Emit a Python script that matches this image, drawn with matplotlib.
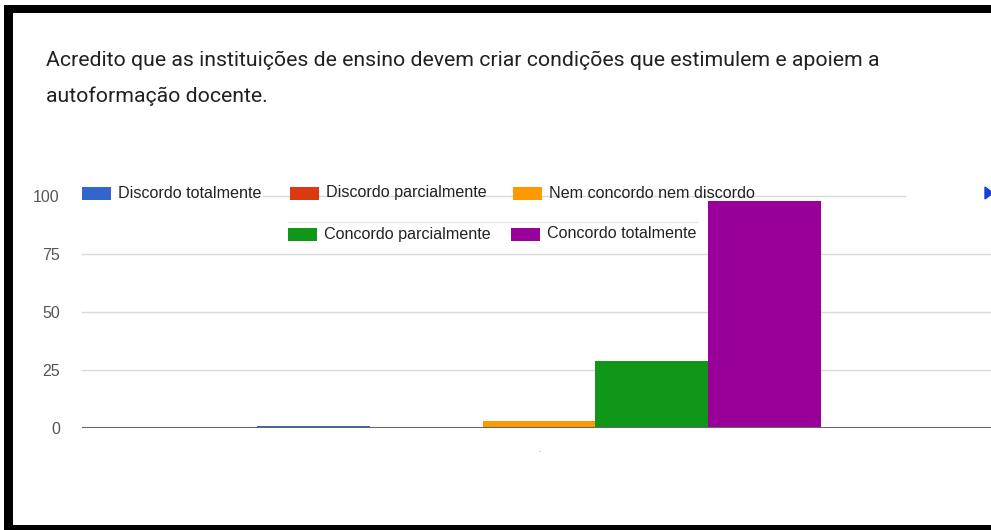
import matplotlib
matplotlib.use("Agg")
import matplotlib.pyplot as plt
from matplotlib.patches import Rectangle

W, H = 991, 530
title_lines = ["Acredito que as instituições de ensino devem criar condições que estimulem e apoiem a",
               "autoformação docente."]
categories = ["Discordo totalmente", "Discordo parcialmente", "Nem concordo nem discordo",
              "Concordo parcialmente", "Concordo totalmente"]
values = [1, 0, 3, 29, 98]
colors = ["#3366cc", "#dc3912", "#ff9900", "#109618", "#990099"]
yticks = [0, 25, 50, 75, 100]
xlabel = "."

fig = plt.figure(figsize=(W / 100, H / 100), dpi=100)
fig.patch.set_facecolor("white")

def fx(px):
    return px / W

def fy(py):
    return 1 - py / H

# axes: x from 82 to 996 px, y 0 at 428, 100 at 196
ax = fig.add_axes([fx(82), fy(428), (996 - 82) / W, (428 - 196) / H])
ax.set_xlim(-0.5, 0.5)
ax.set_ylim(0, 100)
ax.set_facecolor("none")
for s in ax.spines.values():
    s.set_visible(False)

n = len(values)
group_w = 564 / 914
bw = group_w / n
for i, (v, c) in enumerate(zip(values, colors)):
    x = -group_w / 2 + bw * (i + 0.5)
    ax.bar(x, v, width=bw, color=c, zorder=3, edgecolor="none")

for t in yticks[1:-1]:
    ax.axhline(t, color="#d9d9d9", lw=1, zorder=1)
# partially visible top gridline (legend covers parts)
ax.axhline(100, xmin=(263 - 82) / 914, xmax=(905 - 82) / 914, color="#d9d9d9", lw=1, zorder=1, clip_on=False)
ax.axhline(0, color="#666666", lw=1.5, zorder=4)

ax.set_yticks(yticks)
ax.set_yticklabels([str(t) for t in yticks], family="Liberation Sans", fontsize=11.5, color="#555555")
ax.tick_params(axis="y", length=0, pad=16)
ax.set_xticks([0])
ax.set_xticklabels([xlabel], fontsize=5, color="#777777")
ax.tick_params(axis="x", length=0, pad=14)

# legend (manual, Google-charts style)
leg_pos = [(82, 193), (290, 193), (513, 193), (288, 234), (511, 234)]
for (lx, ly), name, c in zip(leg_pos, categories, colors):
    fig.patches.append(Rectangle((fx(lx), fy(ly + 7)), 29 / W, 13 / H, transform=fig.transFigure,
                                 facecolor=c, edgecolor="none", zorder=5))
    fig.text(fx(lx + 36), fy(ly), name, family="Liberation Sans", fontsize=11.6,
             color="#222222", va="center", ha="left", zorder=5)
# faint line between legend rows
fig.add_artist(plt.Line2D([fx(288), fx(697)], [fy(222), fy(222)], color="#e6e6e6", lw=1))
# pagination arrow
fig.add_artist(plt.Polygon([[fx(985), fy(187)], [fx(985), fy(199)], [fx(993), fy(193)]],
                           closed=True, color="#1a3fd6"))

# title
fig.text(fx(46), fy(60), title_lines[0], family="Roboto", fontsize=15.3, color="#202124", va="center", ha="left")
fig.text(fx(46), fy(96), title_lines[1], family="Roboto", fontsize=15.3, color="#202124", va="center", ha="left")

# black border frame
fig.patches.append(Rectangle((fx(4), fy(13)), 1 - fx(4), 8 / H, transform=fig.transFigure,
                             facecolor="black", edgecolor="none", zorder=10))
fig.patches.append(Rectangle((fx(4), 0), 9 / W, fy(5), transform=fig.transFigure,
                             facecolor="black", edgecolor="none", zorder=10))
fig.patches.append(Rectangle((fx(4), 0), 1 - fx(4), 5 / H, transform=fig.transFigure,
                             facecolor="black", edgecolor="none", zorder=10))

fig.savefig("out.png", dpi=100)
